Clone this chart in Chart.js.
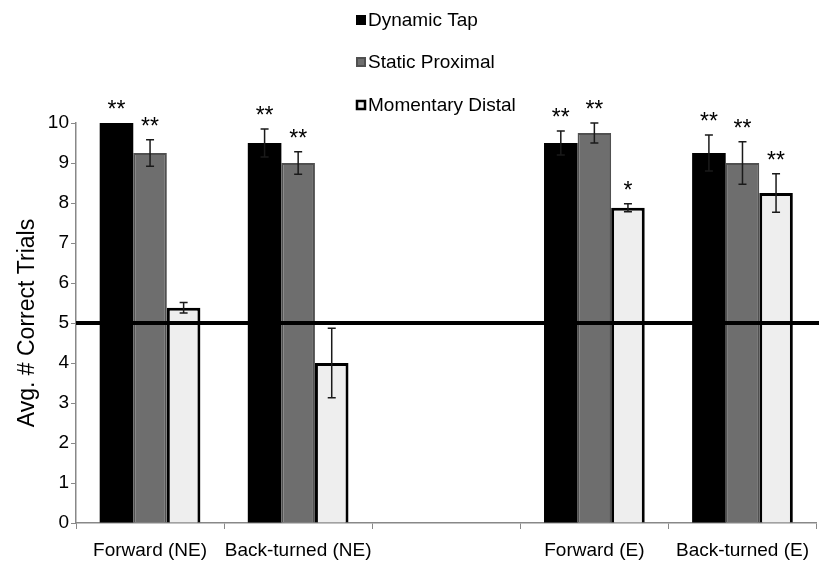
<!DOCTYPE html>
<html>
<head>
<meta charset="utf-8">
<script src="https://cdn.jsdelivr.net/npm/chart.js@4.4.1/dist/chart.umd.min.js"></script>
<style>
  html, body { margin: 0; padding: 0; background: #fff; }
  #wrap { width: 819px; height: 563px; position: relative; }
</style>
</head>
<body>
<div id="wrap"><canvas id="trialsChart"></canvas></div>
<script>
// Conditions on the x axis (the blank slot is the gap in the original figure)
const categories = ['Forward (NE)', 'Back-turned (NE)', '', 'Forward (E)', 'Back-turned (E)'];

const dynamicTap = [10, 9.5, null, 9.5, 9.25];
const dynamicTapErr = [0, 0.35, null, 0.3, 0.45];
const dynamicTapSig = ['**', '**', '', '**', '**'];

const staticProximal = [9.25, 9.0, null, 9.75, 9.0];
const staticProximalErr = [0.33, 0.28, null, 0.25, 0.53];
const staticProximalSig = ['**', '**', '', '**', '**'];

const momentaryDistal = [5.38, 4.0, null, 7.88, 8.25];
const momentaryDistalErr = [0.13, 0.87, null, 0.1, 0.48];
const momentaryDistalSig = ['', '', '', '*', '**'];

const yTicks = [0, 1, 2, 3, 4, 5, 6, 7, 8, 9, 10];
const chanceLevel = 5;

const FONT = "'Liberation Sans', Arial, sans-serif";

// error bars, significance stars, chance line and legend
const extrasPlugin = {
    id: 'extras',
    afterDatasetsDraw: function(chart) {
        const ctx = chart.ctx;
        const y = chart.scales.y;
        const area = chart.chartArea;

        // chance line
        const yc = y.getPixelForValue(chanceLevel);
        ctx.save();
        ctx.strokeStyle = '#000';
        ctx.lineWidth = 4;
        ctx.beginPath();
        ctx.moveTo(area.left, yc);
        ctx.lineTo(chart.width, yc);
        ctx.stroke();
        ctx.restore();

        chart.data.datasets.forEach(function(ds, di) {
            const meta = chart.getDatasetMeta(di);
            meta.data.forEach(function(bar, i) {
                const v = ds.data[i];
                if (v === null) return;
                const err = ds.errors[i] || 0;
                const top = y.getPixelForValue(v + err);
                const bot = y.getPixelForValue(v - err);
                if (err > 0) {
                    ctx.save();
                    ctx.strokeStyle = '#1a1a1a';
                    ctx.lineWidth = 1.5;
                    ctx.beginPath();
                    ctx.moveTo(bar.x, top);
                    ctx.lineTo(bar.x, bot);
                    ctx.moveTo(bar.x - 4, top);
                    ctx.lineTo(bar.x + 4, top);
                    ctx.moveTo(bar.x - 4, bot);
                    ctx.lineTo(bar.x + 4, bot);
                    ctx.stroke();
                    ctx.restore();
                }
                const sig = ds.sig[i];
                if (sig) {
                    ctx.save();
                    ctx.fillStyle = '#000';
                    ctx.font = '23px ' + FONT;
                    ctx.textAlign = 'center';
                    ctx.textBaseline = 'alphabetic';
                    ctx.fillText(sig, bar.x, top - 6);
                    ctx.restore();
                }
            });
        });

        // legend, stacked vertically at the top
        ctx.save();
        ctx.font = '19px ' + FONT;
        ctx.textBaseline = 'middle';
        ctx.textAlign = 'left';
        const rows = [20, 62, 105];
        chart.data.datasets.forEach(function(ds, di) {
            const ry = rows[di];
            ctx.fillStyle = ds.backgroundColor;
            ctx.fillRect(356, ry - 5, 10, 10);
            if (ds.borderWidth > 0) {
                ctx.strokeStyle = ds.borderColor;
                ctx.lineWidth = di === 2 ? 2.5 : 2;
                ctx.strokeRect(357, ry - 4, 8, 8);
            }
            ctx.fillStyle = '#000';
            ctx.fillText(ds.label, 368, ry + 1);
        });
        ctx.restore();
    }
};

const trialsCtx = document.getElementById('trialsChart').getContext('2d');
new Chart(trialsCtx, {
    type: 'bar',
    data: {
        labels: categories,
        datasets: [{
            label: 'Dynamic Tap',
            data: dynamicTap,
            errors: dynamicTapErr,
            sig: dynamicTapSig,
            backgroundColor: '#000000',
            borderColor: '#000000',
            borderWidth: 0
        }, {
            label: 'Static Proximal',
            data: staticProximal,
            errors: staticProximalErr,
            sig: staticProximalSig,
            backgroundColor: '#6e6e6e',
            borderColor: '#505050',
            borderWidth: 2
        }, {
            label: 'Momentary Distal',
            data: momentaryDistal,
            errors: momentaryDistalErr,
            sig: momentaryDistalSig,
            backgroundColor: '#eeeeee',
            borderColor: '#000000',
            borderWidth: 3
        }]
    },
    options: {
        responsive: true,
        maintainAspectRatio: false,
        animation: false,
        layout: {
            padding: { top: 123, right: 0, bottom: 0, left: 14 }
        },
        datasets: {
            bar: {
                categoryPercentage: 0.68,
                barPercentage: 1.0
            }
        },
        plugins: {
            legend: { display: false },
            tooltip: { enabled: false }
        },
        scales: {
            x: {
                afterFit: function(scale) {
                    scale.height = 40;
                },
                grid: {
                    display: true,
                    drawOnChartArea: false,
                    offset: true,
                    tickLength: 6,
                    color: '#888'
                },
                border: { color: '#888', width: 1.5 },
                ticks: {
                    color: '#000',
                    padding: 10,
                    maxRotation: 0,
                    autoSkip: false,
                    font: { family: FONT, size: 19 }
                }
            },
            y: {
                min: 0,
                max: 10,
                afterBuildTicks: function(scale) {
                    scale.ticks = yTicks.map(function(v) { return { value: v }; });
                },
                afterFit: function(scale) {
                    scale.width = 62;
                },
                grid: {
                    display: true,
                    drawOnChartArea: false,
                    tickLength: 5,
                    color: '#888'
                },
                border: { color: '#888', width: 1.5 },
                ticks: {
                    color: '#000',
                    padding: 2,
                    font: { family: FONT, size: 19 }
                },
                title: {
                    display: true,
                    text: 'Avg. # Correct Trials',
                    color: '#000',
                    padding: 0,
                    font: { family: FONT, size: 23 }
                }
            }
        }
    },
    plugins: [extrasPlugin]
});
</script>
</body>
</html>
